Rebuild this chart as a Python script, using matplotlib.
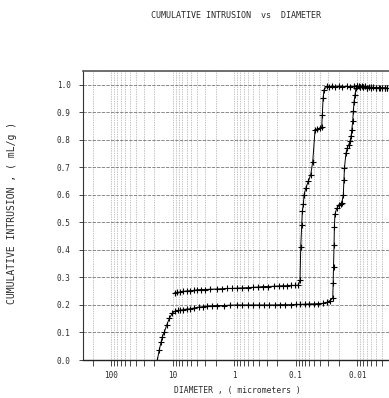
import matplotlib
matplotlib.use("Agg")
import matplotlib.pyplot as plt
from matplotlib.ticker import LogLocator, FuncFormatter, MultipleLocator, NullFormatter

# intrusion curve (diameter in micrometers, mL/g)
d_intr = [17.9, 16.7, 15.5, 14.8, 13.7, 12.6, 11.4, 10.2, 9.2, 8.3, 7.6, 6.8, 6.0, 5.25,
          4.5, 3.8, 3.2, 2.8, 2.3, 1.9, 1.5, 1.2, 0.91, 0.75, 0.6, 0.5, 0.4, 0.33, 0.27,
          0.22, 0.18, 0.15, 0.12, 0.1, 0.085, 0.07, 0.06, 0.05, 0.043, 0.0357, 0.031,
          0.0278, 0.0251, 0.0247, 0.0244, 0.0239, 0.0236, 0.0231, 0.0216, 0.0196, 0.0185,
          0.0179, 0.0169, 0.0165, 0.0162, 0.0153, 0.0146, 0.0138, 0.0131, 0.0126, 0.0123,
          0.0119, 0.0116, 0.0113, 0.0109, 0.0105, 0.0100, 0.0095, 0.009, 0.0085, 0.008,
          0.0075, 0.007, 0.0065, 0.006, 0.0055, 0.005, 0.0045, 0.004, 0.0036, 0.0033]
v_intr = [0.0, 0.036, 0.067, 0.085, 0.103, 0.127, 0.152, 0.170, 0.178, 0.180, 0.181, 0.183,
          0.185, 0.186, 0.189, 0.192, 0.194, 0.196, 0.197, 0.198, 0.198, 0.199, 0.200, 0.200,
          0.200, 0.200, 0.200, 0.200, 0.200, 0.200, 0.201, 0.201, 0.201, 0.202, 0.202, 0.203,
          0.204, 0.204, 0.205, 0.206, 0.210, 0.216, 0.224, 0.279, 0.339, 0.418, 0.485, 0.530,
          0.551, 0.564, 0.568, 0.572, 0.600, 0.655, 0.697, 0.751, 0.770, 0.782, 0.796, 0.815,
          0.836, 0.867, 0.903, 0.939, 0.964, 0.988, 0.996, 0.995, 0.993, 0.996, 0.992, 0.994,
          0.990, 0.993, 0.989, 0.991, 0.988, 0.990, 0.987, 0.989, 0.988]

# extrusion curve
d_extr = [9.2, 8.5, 7.6, 6.75, 6.0, 5.2, 4.5, 4.08, 3.5, 3.0, 2.5, 1.93, 1.6, 1.3, 1.1,
          0.91, 0.75, 0.6, 0.5, 0.42, 0.337, 0.28, 0.23, 0.19, 0.16, 0.14, 0.12, 0.105,
          0.091, 0.0855, 0.0832, 0.0802, 0.0784, 0.0755, 0.0736, 0.069, 0.0626, 0.0573,
          0.0531, 0.0487, 0.0455, 0.0404, 0.0379, 0.0371, 0.0360, 0.0348, 0.0315, 0.029,
          0.026, 0.023, 0.020, 0.0175, 0.0149, 0.013, 0.0115, 0.0102, 0.009, 0.008,
          0.007, 0.006, 0.005, 0.0042, 0.0036, 0.0033]
v_extr = [0.245, 0.246, 0.247, 0.249, 0.251, 0.252, 0.253, 0.255, 0.256, 0.256, 0.257,
          0.258, 0.259, 0.260, 0.260, 0.261, 0.262, 0.263, 0.264, 0.265, 0.267, 0.267,
          0.268, 0.269, 0.270, 0.270, 0.271, 0.271, 0.272, 0.290, 0.412, 0.491, 0.540,
          0.565, 0.600, 0.624, 0.650, 0.673, 0.721, 0.836, 0.839, 0.842, 0.846, 0.891,
          0.952, 0.982, 0.994, 0.993, 0.995, 0.992, 0.994, 0.993, 0.994, 0.992, 0.995,
          0.996, 0.991, 0.993, 0.989, 0.991, 0.988, 0.990, 0.988, 0.988]

yticks = [0.0, 0.1, 0.2, 0.3, 0.4, 0.5, 0.6, 0.7, 0.8, 0.9, 1.0]
xtick_vals = [100, 10, 1, 0.1, 0.01]
xtick_text = ["100", "10", "1", "0.1", "0.01"]

mono = "DejaVu Sans Mono"
tc = "#2a2a2a"

fig = plt.figure(figsize=(3.89, 3.98), dpi=100)
ax = fig.add_axes([83 / 389, 38 / 398, 308.3 / 389, 289 / 398])

ax.plot(d_intr, v_intr, color="black", lw=0.7, marker="+", ms=4, mew=0.8)
ax.plot(d_extr, v_extr, color="black", lw=0.7, marker="+", ms=4, mew=0.8)

ax.set_xscale("log")
ax.set_xlim(290, 0.0028)
ax.set_ylim(0, 1.05)

ax.xaxis.set_major_locator(LogLocator(base=10))
ax.xaxis.set_minor_locator(LogLocator(base=10, subs=range(2, 10)))
ax.set_xticks(xtick_vals)
ax.set_xticklabels(xtick_text)
ax.xaxis.set_minor_formatter(NullFormatter())
ax.set_yticks(yticks)
ax.set_yticklabels(["%.1f" % t for t in yticks])

ax.grid(True, which="major", axis="y", color="#777777", lw=0.6, ls=(0, (4, 1.5)))
ax.grid(True, which="both", axis="x", color="#8a8a8a", lw=0.5, ls=(0, (1, 1.5)))

ax.tick_params(axis="x", which="both", direction="out", length=4, width=0.6,
               pad=4, labelsize=5.5, colors=tc)
ax.tick_params(axis="y", which="major", direction="out", length=3, width=0.6,
               pad=6, labelsize=5.5, colors=tc)
for lab in ax.get_xticklabels() + ax.get_yticklabels():
    lab.set_family(mono)

ax.spines["top"].set_color("#555555")
ax.spines["top"].set_linewidth(1.2)
ax.spines["left"].set_color("#333333")
ax.spines["left"].set_linewidth(0.8)
ax.spines["bottom"].set_color("#222222")
ax.spines["bottom"].set_linewidth(1.0)
ax.spines["right"].set_visible(False)

fig.text(236 / 389, 1 - 15 / 398, "CUMULATIVE INTRUSION  vs  DIAMETER",
         ha="center", va="center", fontsize=6, family=mono, color=tc)
fig.text(237 / 389, 1 - 391 / 398, "DIAMETER , ( micrometers )",
         ha="center", va="center", fontsize=5.8, family=mono, color=tc)
fig.text(12 / 389, 1 - 213 / 398, "CUMULATIVE INTRUSION , ( mL/g )",
         ha="center", va="center", rotation=90, fontsize=7, family=mono, color=tc)

fig.savefig("out.png", dpi=100)
